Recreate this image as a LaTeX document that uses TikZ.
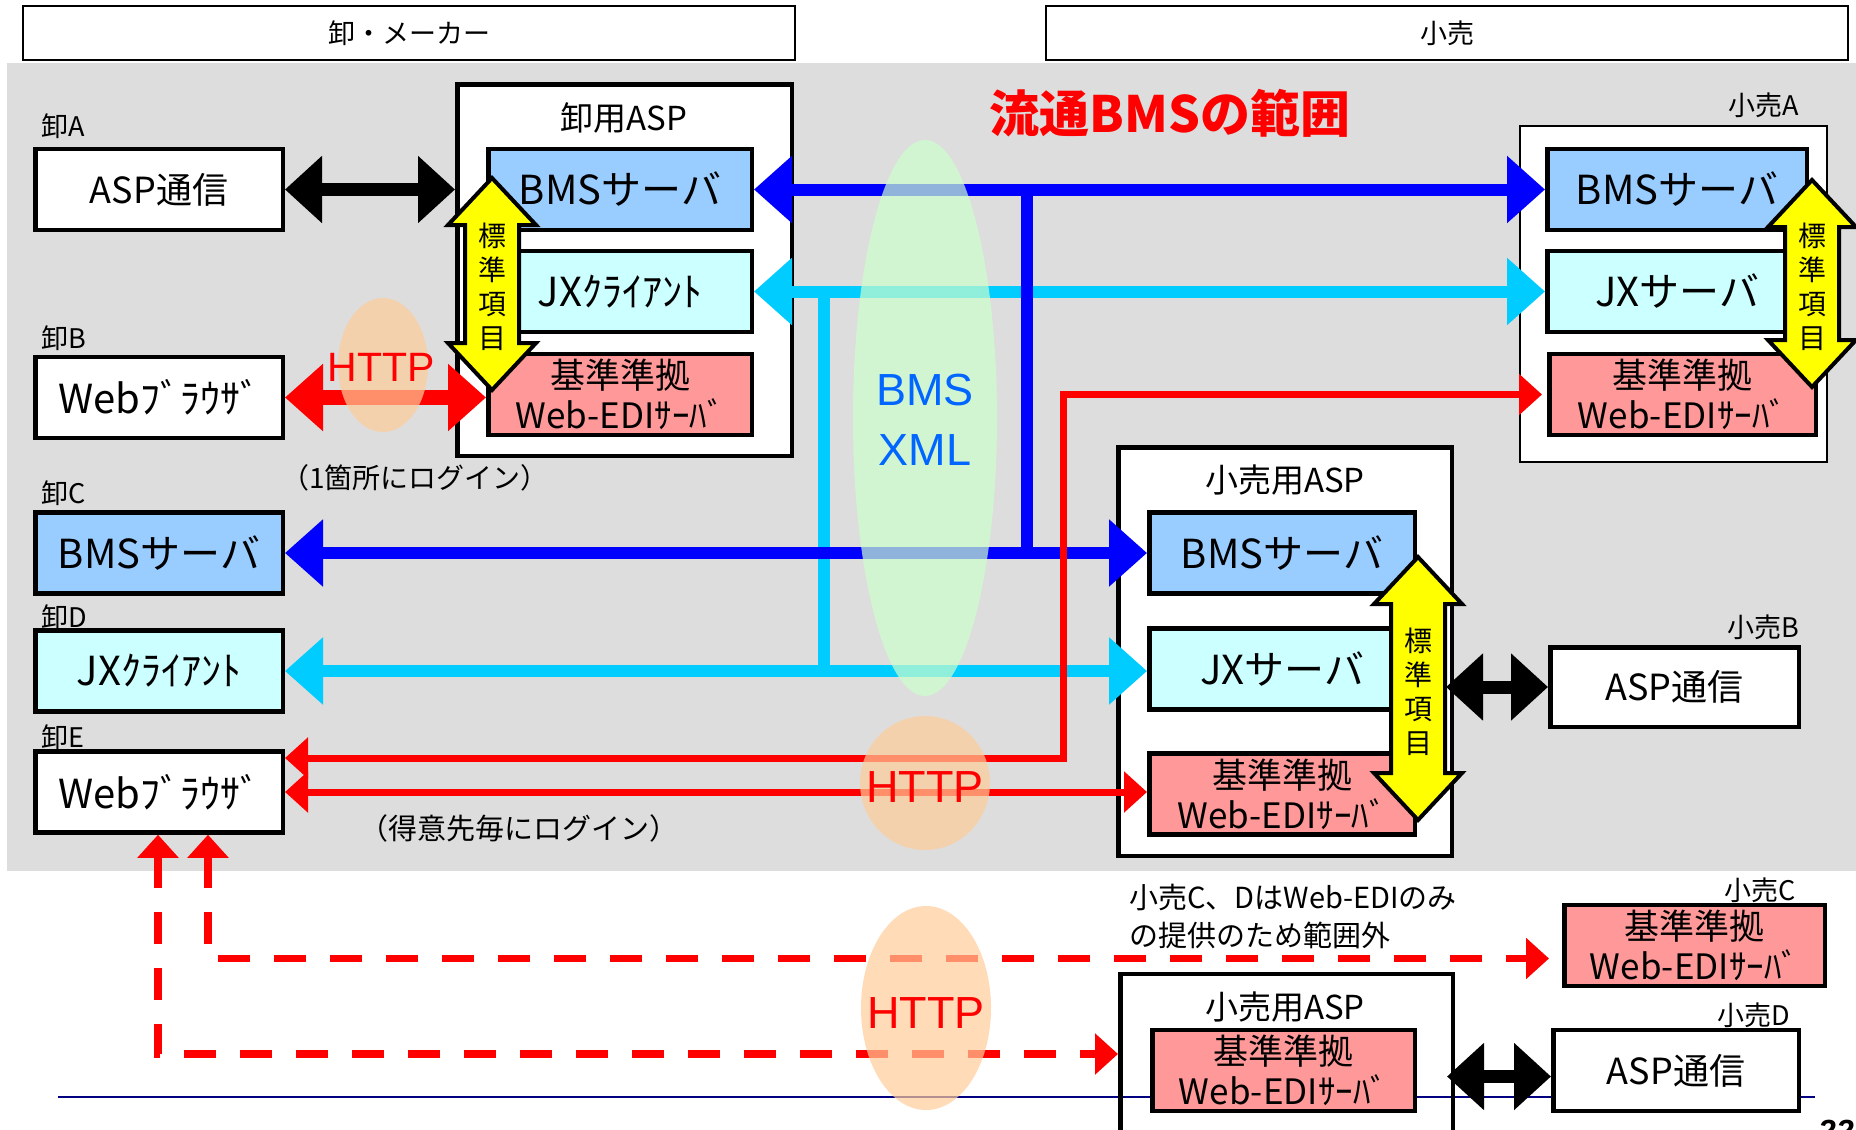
\documentclass[tikz,border=0pt]{standalone}
\usepackage{fontspec}
\setmainfont{Noto Sans CJK JP}
\newfontfamily\latinsans{Liberation Sans}
\usetikzlibrary{arrows.meta}

\definecolor{bggray}{HTML}{DDDDDD}
\definecolor{bmsblue}{HTML}{0000FF}
\definecolor{jxcyan}{HTML}{00CCFF}
\definecolor{httpred}{HTML}{FF0000}
\definecolor{fillblue}{HTML}{99CCFF}
\definecolor{fillcyan}{HTML}{CCFFFF}
\definecolor{fillpink}{HTML}{FF9999}
\definecolor{stdyellow}{HTML}{FFFF00}
\definecolor{xmlgreen}{HTML}{CCFFCC}
\definecolor{httppeach}{HTML}{FFCC99}
\definecolor{xmltext}{HTML}{0066FF}
\definecolor{rulenavy}{HTML}{000080}

\tikzset{
  every node/.style={inner sep=0pt},
  box/.style={rectangle, draw=black, line width=4.5pt, align=center},
  hdr/.style={rectangle, draw=black, line width=2pt, fill=white,
    minimum height=54pt, font=\fontsize{27}{30}\selectfont},
  tag/.style={font=\fontsize{27}{30}\selectfont},
  sidebox/.style={box, minimum width=247.5pt, minimum height=81pt},
  srv/.style={box, minimum height=81pt, font=\fontsize{40}{46}\selectfont},
  edi/.style={box, fill=fillpink, minimum height=81pt, font=\fontsize{35}{40}\selectfont},
  asptitle/.style={font=\fontsize{33}{36}\selectfont},
  stdtext/.style={align=center, font=\fontsize{28}{34}\selectfont},
  stdarrow/.style={fill=stdyellow, draw=black, line width=4pt, line join=miter},
  bmsline/.style={draw=bmsblue, line width=12pt, >={Triangle[length=38pt,width=65pt]}},
  jxline/.style={draw=jxcyan, line width=12pt, >={Triangle[length=38pt,width=65pt]}},
  webline/.style={draw=httpred, line width=7pt, line join=miter, >={Triangle[length=23pt,width=40pt]}},
  loginline/.style={draw=httpred, line width=15pt, >={Triangle[length=38pt,width=65pt]}},
  aspline/.style={draw=black, line width=13pt, >={Triangle[length=37pt,width=65pt]}},
  outline/.style={draw=httpred, line width=7.5pt, dash pattern=on 32pt off 24pt,
    line join=miter, >={Triangle[length=23pt,width=40pt]}},
  httptext/.style={text=httpred, font=\latinsans\fontsize{45}{50}\selectfont},
  note/.style={font=\fontsize{28}{32}\selectfont},
}

% yellow double arrow "標準項目": centre x, top tip y, bottom tip y, name
\newcommand\standarditems[4]{%
  \draw[stdarrow] (#1,#2) -- (#1+44,#2+47) -- (#1+27,#2+47) -- (#1+27,#3-47)
    -- (#1+44,#3-47) -- (#1,#3) -- (#1-44,#3-47) -- (#1-27,#3-47)
    -- (#1-27,#2+47) -- (#1-44,#2+47) -- cycle;
  \node[stdtext] (#4) at (#1,{(#2+#3)/2+3}) {標\\準\\項\\目};
}

\begin{document}
\begin{tikzpicture}[x=1pt,y=-1pt]
\useasboundingbox (0,0) rectangle (1856,1130);
\fill[white] (0,0) rectangle (1856,1130);

% column headers
\node[hdr, minimum width=772pt] (hdrW) at (409,33) {卸・メーカー};
\node[hdr, minimum width=802pt] (hdrR) at (1447,33) {小売};

% area covered by 流通BMS
\fill[bggray] (7,63) rectangle (1856,871);
\draw[rulenavy, line width=2.2pt] (58,1097) -- (1815,1097);
\node[text=httpred, font=\bfseries\fontsize{50}{56}\selectfont] (scopetitle) at (1170,113) {流通BMSの範囲};

% ---- wholesaler side ----
\node[tag, anchor=base west] (lblA) at (41,136) {卸A};
\node[sidebox, fill=white, font=\fontsize{36}{40}\selectfont] (aspA) at (159,189.5) {ASP通信};
\node[tag, anchor=base west] (lblB) at (41,348) {卸B};
\node[sidebox, fill=white, font=\fontsize{40}{46}\selectfont] (brB) at (159,397.5) {Webﾌﾞﾗｳｻﾞ};
\node[tag, anchor=base west] (lblC) at (41,503) {卸C};
\node[sidebox, fill=fillblue, font=\fontsize{40}{46}\selectfont] (bmsC) at (159,553) {BMSサーバ};
\node[tag, anchor=base west] (lblD) at (41,627) {卸D};
\node[sidebox, fill=fillcyan, font=\fontsize{40}{46}\selectfont] (jxD) at (159,671) {JXｸﾗｲｱﾝﾄ};
\node[tag, anchor=base west] (lblE) at (41,747) {卸E};
\node[sidebox, fill=white, font=\fontsize{40}{46}\selectfont] (webE) at (159,792) {Webﾌﾞﾗｳｻﾞ};

% wholesaler ASP
\node[box, fill=white, minimum width=334.5pt, minimum height=371.5pt] (wsASP) at (624.5,270) {};
\node[asptitle] (wsASPt) at (624,118) {卸用ASP};
\node[srv, fill=fillblue, minimum width=263.5pt] (wsBMS) at (620,189.5) {BMSサーバ};
\node[srv, fill=fillcyan, minimum width=263.5pt] (wsJX) at (620,291.5) {JXｸﾗｲｱﾝﾄ};
\node[edi, minimum width=263.5pt] (wsEDI) at (620,394.5) {基準準拠\\Web-EDIｻｰﾊﾞ};

\node[note] (loginOne) at (415,478) {（1箇所にログイン）};
\node[note, font=\fontsize{29}{32}\selectfont] (loginEach) at (519,828) {（得意先毎にログイン）};

% ---- retailer side ----
\node[tag, anchor=base east] (lblRA) at (1799,115) {小売A};
\node[rectangle, draw=black, line width=2pt, fill=white, minimum width=307pt, minimum height=336pt] (rtA) at (1673.5,294) {};
\node[srv, fill=fillblue, minimum width=259.5pt] (rtBMS) at (1677,189.5) {BMSサーバ};
\node[srv, fill=fillcyan, minimum width=259.5pt] (rtJX) at (1677,291.5) {JXサーバ};
\node[edi, minimum width=266.5pt] (rtEDI) at (1682.5,394.5) {基準準拠\\Web-EDIｻｰﾊﾞ};

% retailer ASP
\node[box, fill=white, minimum width=333.5pt, minimum height=408.5pt] (rsASP) at (1285,651.5) {};
\node[asptitle] (rsASPt) at (1285,480) {小売用ASP};
\node[srv, fill=fillblue, minimum width=265.5pt] (rsBMS) at (1282,553) {BMSサーバ};
\node[srv, fill=fillcyan, minimum width=265.5pt] (rsJX) at (1282,669) {JXサーバ};
\node[edi, minimum width=265.5pt] (rsEDI) at (1282,794) {基準準拠\\Web-EDIｻｰﾊﾞ};

\node[tag, anchor=base east] (lblRB) at (1799,637) {小売B};
\node[sidebox, fill=white, minimum width=248.5pt, minimum height=79.5pt, font=\fontsize{36}{40}\selectfont] (rtB) at (1674.5,687) {ASP通信};

% retailers outside the scope
\node[font=\fontsize{29}{38}\selectfont, align=left, anchor=north west] (outnote) at (1129,884) {小売C、DはWeb-EDIのみ\\の提供のため範囲外};
\node[tag, anchor=base east] (lblRC) at (1796,900) {小売C};
\node[edi, minimum width=260.5pt] (rtC) at (1694.5,945.5) {基準準拠\\Web-EDIｻｰﾊﾞ};
\node[box, minimum width=332.5pt, minimum height=160pt] (rsASP2) at (1286.5,1054) {};
\node[asptitle] (rsASP2t) at (1285,1007) {小売用ASP};
\node[edi, minimum width=262.5pt] (rsEDI2) at (1283.5,1070.5) {基準準拠\\Web-EDIｻｰﾊﾞ};
\node[tag, anchor=base east] (lblRD) at (1790,1025) {小売D};
\node[sidebox, fill=white, minimum width=245.5pt, font=\fontsize{36}{40}\selectfont] (rtD) at (1676,1070.5) {ASP通信};

% ---- message flows ----
\coordinate (cjTop) at (824,291.5);
\coordinate (cjBot) at (824,670);
\coordinate (bjTop) at (1027,189.5);
\coordinate (bjBot) at (1027,553);
\coordinate (redUp) at (1063,394.5);

% JX protocol
\draw[jxline, <->] (wsJX.east) -- (rtJX.west);
\draw[jxline] (cjTop) -- (cjBot);
\draw[jxline, <->] (jxD.east) -- (jxD.east -| rsJX.west);

% BMS protocol
\draw[bmsline, <->] (wsBMS.east) -- (rtBMS.west);
\draw[bmsline] (bjTop) -- (bjBot);
\draw[bmsline, <->] (bmsC.east) -- (rsBMS.west);

% Web-EDI over HTTP
\draw[webline, <->, shorten >=5pt] ([yshift=34pt]webE.east) -| (redUp) -- (rtEDI.west);
\draw[webline, <->] (webE.east) -- (webE.east -| rsEDI.west);
\draw[loginline, <->] (brB.east) -- (brB.east -| wsEDI.west);

% ASP links
\draw[aspline, <->] (aspA.east) -- (aspA.east -| wsASP.west);
\draw[aspline, <->, shorten <=-8pt] (rsASP.east |- rtB.west) -- (rtB.west);
\draw[aspline, <->, shorten <=-8pt] ([yshift=-6pt]rtD.west -| rsASP2.east) -- ([yshift=-6pt]rtD.west);

% browser access to retailers outside the scope
\draw[outline, <->, shorten >=13pt] ([xshift=49pt]webE.south) |- ([yshift=-13pt]rtC.west);
\draw[outline, <->] ([xshift=-1pt]webE.south) |- (rsASP2.west);

% protocol bubbles
\fill[xmlgreen, opacity=0.7] (925,418) ellipse [x radius=72pt, y radius=278pt];
\fill[httppeach, opacity=0.7] (383,365) ellipse [x radius=45pt, y radius=67pt];
\fill[httppeach, opacity=0.7] (925,783) ellipse [x radius=65pt, y radius=67pt];
\fill[httppeach, opacity=0.7] (926,1008) ellipse [x radius=65pt, y radius=102pt];

\node[align=center, text=xmltext, font=\latinsans\fontsize{45}{60}\selectfont] (bmsxml) at (925,420) {BMS\\XML};
\node[httptext, font=\latinsans\fontsize{41}{46}\selectfont] (httpB) at (381,367) {HTTP};
\node[httptext] (httpE) at (925,787) {HTTP};
\node[httptext] (httpOut) at (926,1013) {HTTP};

% standard items shared by the servers
\standarditems{492}{178}{390}{stdW}
\standarditems{1812}{180}{387}{stdA}
\standarditems{1418}{557}{820}{stdR}

% page number
\node[anchor=north west, font=\latinsans\bfseries\itshape\fontsize{32}{34}\selectfont] (pageno) at (1818,1120) {22};
\end{tikzpicture}
\end{document}
